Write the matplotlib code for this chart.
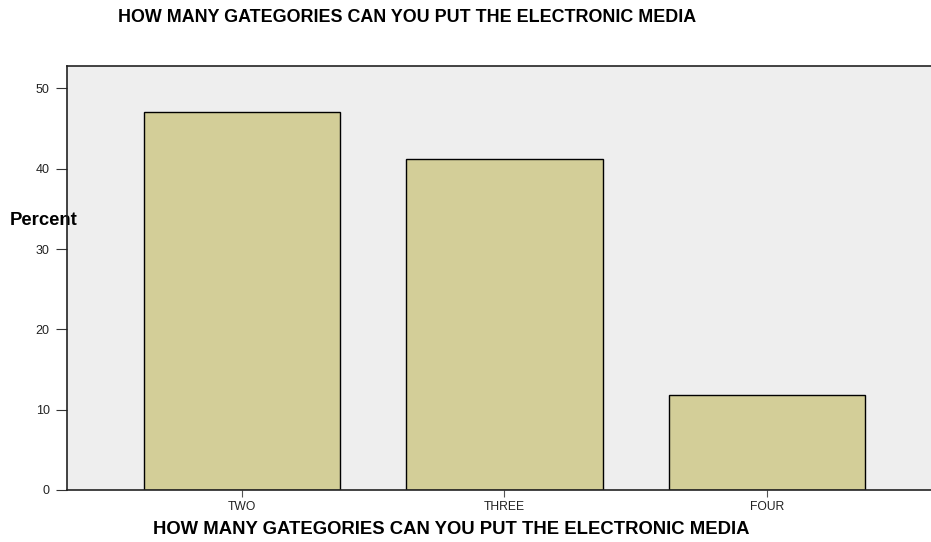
import matplotlib
matplotlib.use("Agg")
import matplotlib.pyplot as plt

categories = ["TWO", "THREE", "FOUR"]
percent = [47.1, 41.2, 11.8]
yticks = [0, 10, 20, 30, 40, 50]
title = "HOW MANY GATEGORIES CAN YOU PUT THE ELECTRONIC MEDIA"

plt.rcParams['font.family'] = ['Liberation Sans', 'DejaVu Sans']

fig = plt.figure(figsize=(9.31, 5.42), dpi=100)
ax = fig.add_axes([66.7/931, 52/542, 1 - 66.7/931, (490-66)/542])
ax.set_facecolor('#EEEEEE')
x = list(range(len(categories)))
ax.bar(x, percent, width=0.75, color='#D3CE98', edgecolor='black', linewidth=1.0, zorder=2)
ax.set_xlim(-0.668, 2.625)
ax.set_ylim(0, 52.8)
ax.set_xticks(x)
ax.set_xticklabels(categories, fontsize=8.7, color='#222222')
ax.set_yticks(yticks)
ax.set_yticklabels([str(v) for v in yticks], fontsize=9, color='#222222')
ax.tick_params(axis='y', length=8, width=0.8, color='#333333', pad=4.3)
ax.tick_params(axis='x', length=5, width=0.8, color='#555555', pad=3)
for s in ['left', 'top', 'bottom']:
    ax.spines[s].set_linewidth(1.2)
    ax.spines[s].set_color('#222222')
ax.spines['right'].set_visible(False)

fig.text(451/931, 1 - 529/542, title, fontsize=13.3, fontweight='bold', ha='center', va='center')
ax.text(10/931, 1 - 220/542, "Percent", fontsize=13.3, fontweight='bold', ha='left', va='center',
        transform=fig.transFigure, clip_on=False, zorder=1)
fig.text(407/931, 1 - 17/542, title, fontsize=12.9, fontweight='bold', ha='center', va='center')

fig.savefig("out.png", dpi=100)
